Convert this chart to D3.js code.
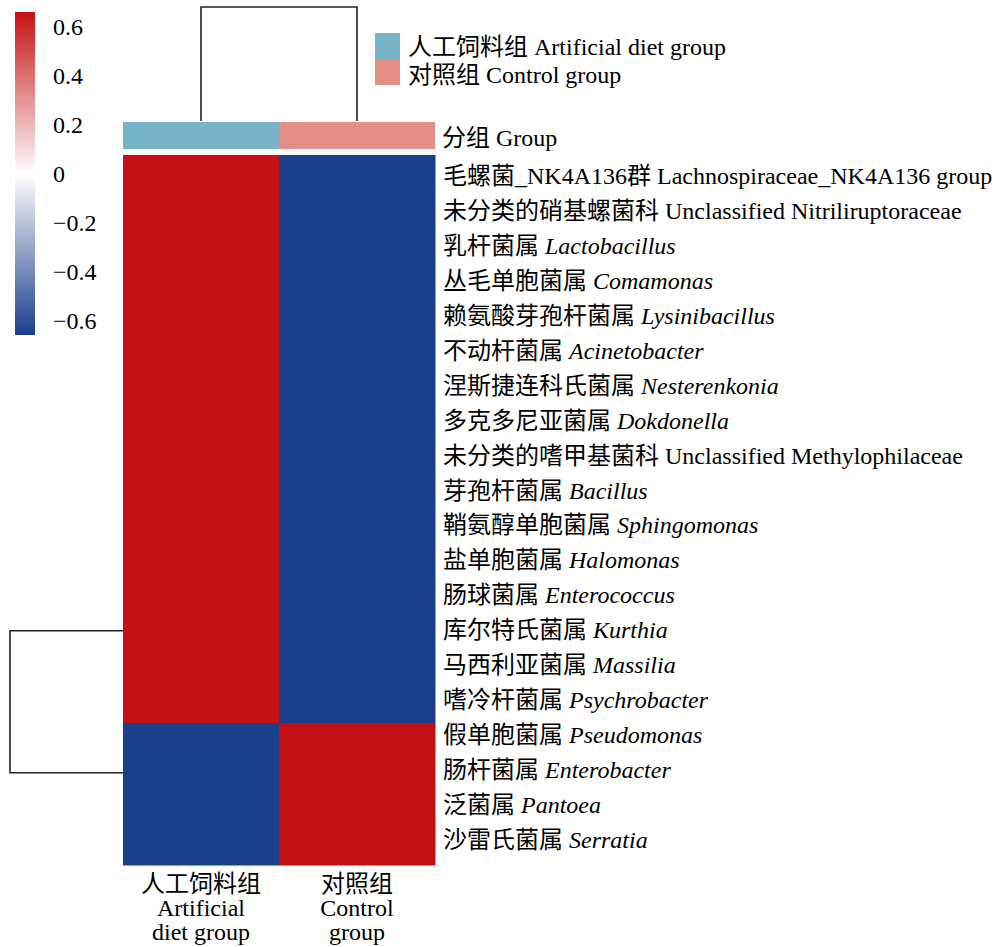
<!DOCTYPE html>
<html>
<head>
<meta charset="utf-8">
<script src="https://cdn.jsdelivr.net/npm/d3@7"></script>
<style>
  html, body { margin: 0; padding: 0; background: #fff; }
  svg { display: block; }
  text { font-family: "Liberation Serif", "Noto Sans CJK SC", serif; fill: #000; }
</style>
</head>
<body>
<svg id="chart" width="995" height="947"></svg>
<script>
// ---------------- data ----------------
const groupsCn = ["人工饲料组", "对照组"];
const groupsEn = ["Artificial diet group", "Control group"];
const groupsEnWrapped = [["Artificial", "diet group"], ["Control", "group"]];
const groupColors = ["#78b4c8", "#e48e86"];

const generaCn = ["毛螺菌_NK4A136群", "未分类的硝基螺菌科", "乳杆菌属", "丛毛单胞菌属", "赖氨酸芽孢杆菌属",
  "不动杆菌属", "涅斯捷连科氏菌属", "多克多尼亚菌属", "未分类的嗜甲基菌科", "芽孢杆菌属",
  "鞘氨醇单胞菌属", "盐单胞菌属", "肠球菌属", "库尔特氏菌属", "马西利亚菌属",
  "嗜冷杆菌属", "假单胞菌属", "肠杆菌属", "泛菌属", "沙雷氏菌属"];
const generaLatin = ["Lachnospiraceae_NK4A136 group", "Unclassified Nitriliruptoraceae", "Lactobacillus", "Comamonas", "Lysinibacillus",
  "Acinetobacter", "Nesterenkonia", "Dokdonella", "Unclassified Methylophilaceae", "Bacillus",
  "Sphingomonas", "Halomonas", "Enterococcus", "Kurthia", "Massilia",
  "Psychrobacter", "Pseudomonas", "Enterobacter", "Pantoea", "Serratia"];
const generaItalic = [false, false, true, true, true, true, true, true, false, true,
  true, true, true, true, true, true, true, true, true, true];

// scaled abundance per genus: [artificial diet, control]
const valuesArtificial = [0.7,0.7,0.7,0.7,0.7,0.7,0.7,0.7,0.7,0.7,0.7,0.7,0.7,0.7,0.7,0.7,-0.7,-0.7,-0.7,-0.7];
const valuesControl    = [-0.7,-0.7,-0.7,-0.7,-0.7,-0.7,-0.7,-0.7,-0.7,-0.7,-0.7,-0.7,-0.7,-0.7,-0.7,-0.7,0.7,0.7,0.7,0.7];

const colorbarTicks = [0.6, 0.4, 0.2, 0, -0.2, -0.4, -0.6];
const colorDomain = [-0.66, 0, 0.66];

// dendrograms (leaf positions in row/column index units)
const rowDendroLeaves = [13.4, 17.4];
const colDendroLeaves = [0.5, 1.5];

// ---------------- layout ----------------
const FS = "24px";
const svg = d3.select("#chart");
const hm = { x0: 123, x1: 435, y0: 155, y1: 865 };
const annot = { y0: 122, y1: 149 };

const x = d3.scaleBand().domain(d3.range(groupsCn.length)).range([hm.x0, hm.x1]).padding(0);
const y = d3.scaleBand().domain(d3.range(generaCn.length)).range([hm.y0, hm.y1]).padding(0);
const xIdx = d3.scaleLinear().domain([0, groupsCn.length]).range([hm.x0, hm.x1]);
const yIdx = d3.scaleLinear().domain([0, generaCn.length]).range([hm.y0, hm.y1]);
const yLabel = d3.scalePoint().domain(d3.range(generaCn.length)).range([176, 840]);

const color = d3.scaleLinear().domain(colorDomain).range(["#1a3f8a", "#ffffff", "#c41214"]).clamp(true);

// ---------------- heatmap cells ----------------
const cells = [];
generaCn.forEach((g, i) => {
  cells.push({ r: i, c: 0, v: valuesArtificial[i] });
  cells.push({ r: i, c: 1, v: valuesControl[i] });
});
svg.append("g").selectAll("rect").data(cells).join("rect")
  .attr("x", d => x(d.c)).attr("y", d => y(d.r))
  .attr("width", x.bandwidth() + 0.5).attr("height", y.bandwidth() + 0.5)
  .attr("fill", d => color(d.v));

// ---------------- group annotation bar ----------------
svg.append("g").selectAll("rect").data(groupsCn).join("rect")
  .attr("x", (d, i) => x(i)).attr("y", annot.y0)
  .attr("width", x.bandwidth()).attr("height", annot.y1 - annot.y0)
  .attr("fill", (d, i) => groupColors[i]);
svg.append("text").attr("x", 442).attr("y", 138).attr("dominant-baseline", "central")
  .style("font-size", FS).text("分组 Group");

// ---------------- legend ----------------
const leg = svg.append("g");
groupsCn.forEach((g, i) => {
  leg.append("rect").attr("x", 375).attr("y", 33 + i * 26).attr("width", 25).attr("height", 26)
    .attr("fill", groupColors[i]);
  leg.append("text").attr("x", 408).attr("y", 47 + i * 28).attr("dominant-baseline", "central")
    .style("font-size", FS).text(g + " " + groupsEn[i]);
});

// ---------------- row labels ----------------
const rl = svg.append("g").selectAll("text").data(generaCn).join("text")
  .attr("x", 443).attr("y", (d, i) => yLabel(i)).attr("dominant-baseline", "central")
  .style("font-size", FS);
rl.append("tspan").text(d => d + " ");
rl.append("tspan").text((d, i) => generaLatin[i]).style("font-style", (d, i) => generaItalic[i] ? "italic" : "normal");

// ---------------- column labels ----------------
groupsCn.forEach((g, i) => {
  const cx = x(i) + x.bandwidth() / 2;
  const t = svg.append("text").attr("text-anchor", "middle").style("font-size", FS);
  t.append("tspan").attr("x", cx).attr("y", 884).attr("dominant-baseline", "central").text(g);
  groupsEnWrapped[i].forEach((line, k) => {
    t.append("tspan").attr("x", cx).attr("y", 908 + k * 24).attr("dominant-baseline", "central").text(line);
  });
});

// ---------------- dendrograms ----------------
const line = d3.line();
const colTop = 7, colBottom = 121;
svg.append("path")
  .attr("d", line([[xIdx(colDendroLeaves[0]), colBottom], [xIdx(colDendroLeaves[0]), colTop],
                   [xIdx(colDendroLeaves[1]), colTop], [xIdx(colDendroLeaves[1]), colBottom]]))
  .attr("fill", "none").attr("stroke", "#222").attr("stroke-width", 1.6);
const rowLeft = 10, rowRight = hm.x0;
svg.append("path")
  .attr("d", line([[rowRight, yIdx(rowDendroLeaves[0])], [rowLeft, yIdx(rowDendroLeaves[0])],
                   [rowLeft, yIdx(rowDendroLeaves[1])], [rowRight, yIdx(rowDendroLeaves[1])]]))
  .attr("fill", "none").attr("stroke", "#222").attr("stroke-width", 1.6);

// ---------------- colour bar ----------------
const cb = { x: 15, w: 20, y0: 12, y1: 335 };
const cbScale = d3.scaleLinear().domain([colorDomain[0], colorDomain[2]]).range([cb.y1, cb.y0]);
const defs = svg.append("defs");
const grad = defs.append("linearGradient").attr("id", "cbgrad")
  .attr("x1", 0).attr("y1", 1).attr("x2", 0).attr("y2", 0);
d3.range(0, 1.0001, 0.05).forEach(t => {
  const v = colorDomain[0] + t * (colorDomain[2] - colorDomain[0]);
  grad.append("stop").attr("offset", t).attr("stop-color", color(v));
});
svg.append("rect").attr("x", cb.x).attr("y", cb.y0).attr("width", cb.w).attr("height", cb.y1 - cb.y0)
  .attr("fill", "url(#cbgrad)");
const cbAxis = d3.axisRight(cbScale).tickValues(colorbarTicks).tickSize(0).tickPadding(0)
  .tickFormat(d => d === 0 ? "0" : (d < 0 ? "\u2212" + Math.abs(d) : String(d)));
const cbG = svg.append("g").attr("transform", `translate(${cb.x + cb.w + 18},0)`).call(cbAxis);
cbG.select(".domain").remove();
cbG.selectAll("text").style("font-size", FS).style("font-family", "'Liberation Serif', serif")
  .attr("fill", "#000").attr("x", 0);
</script>
</body>
</html>
